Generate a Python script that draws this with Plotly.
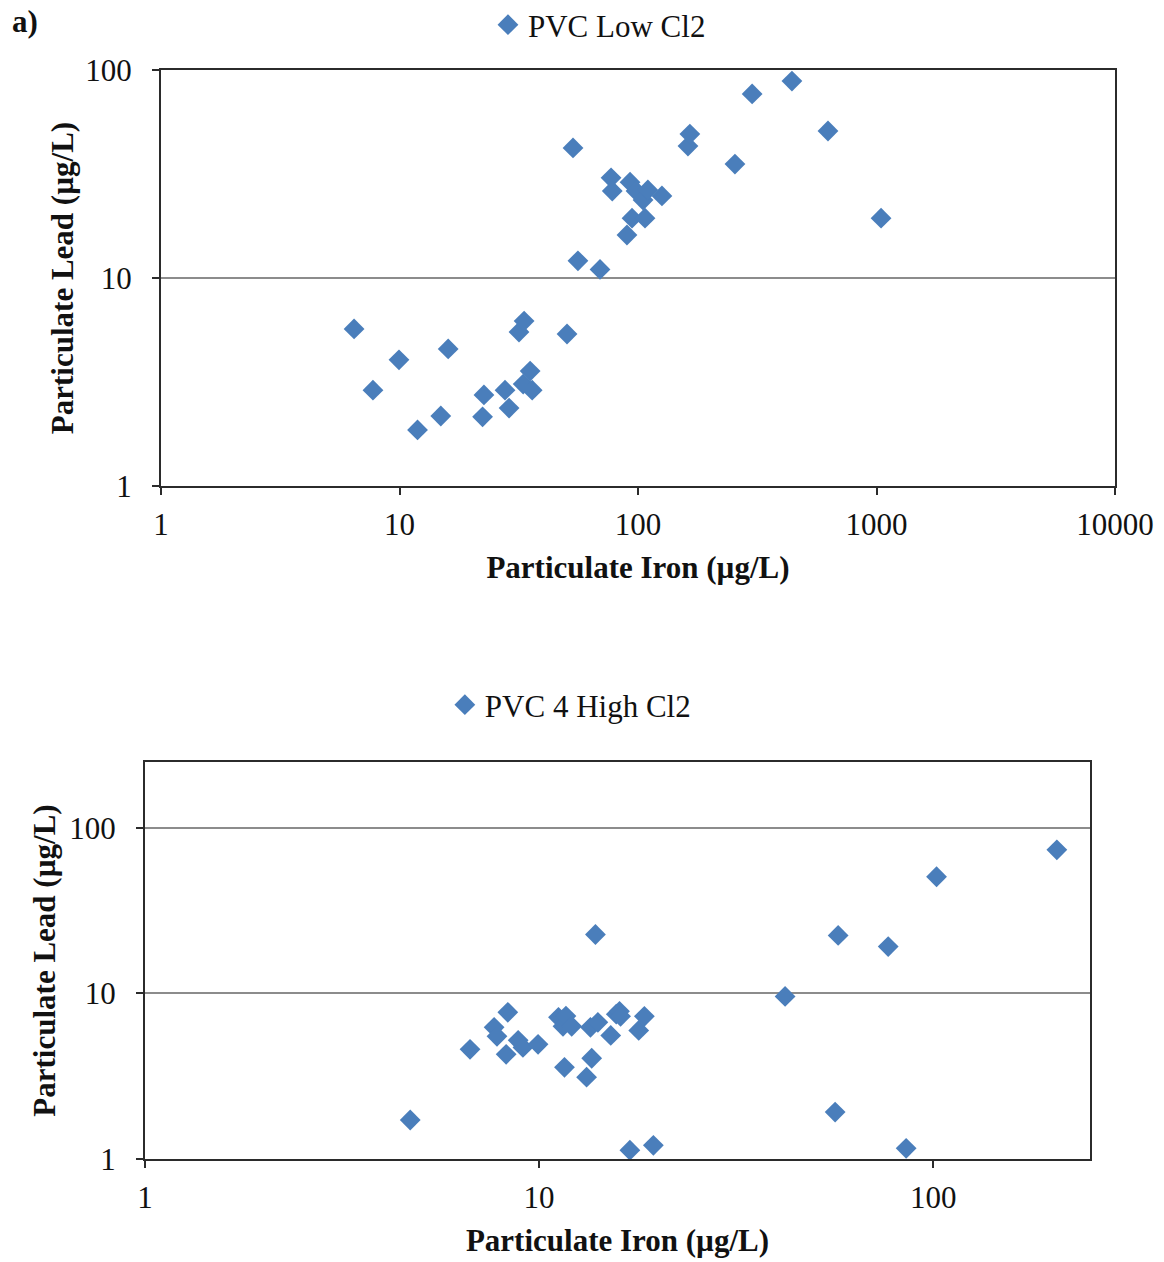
import plotly.graph_objects as go

# ---- Data: PVC Low Cl2 (top panel) ----
low_iron = [6.45, 7.74, 9.95, 11.9, 14.9, 16.0, 22.6, 22.3, 27.7, 28.8, 31.7, 33.3, 33.0, 35.3, 36.0,
            50.4, 53.4, 56.0, 69.3, 77.1, 78.0, 89.9, 92.6, 94.4, 98.1, 105, 107, 110, 126,
            162, 165, 255, 301, 442, 626, 1045]
low_lead = [5.69, 2.89, 4.04, 1.86, 2.17, 4.56, 2.74, 2.15, 2.89, 2.37, 5.5, 6.21, 3.09, 3.57, 2.89,
            5.38, 42.2, 12.1, 11.0, 30.3, 26.2, 16.1, 28.9, 19.4, 26.2, 23.7, 19.4, 26.5, 24.8,
            43.1, 49.2, 35.3, 76.7, 88.5, 50.9, 19.4]

# ---- Data: PVC 4 High Cl2 (bottom panel) ----
high_iron = [4.71, 6.68, 7.69, 7.82, 8.25, 8.33, 8.85, 9.1, 9.94, 11.2, 11.5, 11.7, 11.6, 12.1,
             13.2, 13.6, 13.5, 13.9, 14.1, 15.2, 15.7, 16.0, 16.1, 17.0, 17.9, 18.5, 19.5,
             42.1, 56.4, 57.4, 76.9, 85.4, 102, 206]
high_lead = [1.72, 4.6, 6.24, 5.51, 4.29, 7.69, 5.21, 4.72, 4.93, 7.17, 6.33, 7.3, 3.58, 6.33,
             3.12, 4.06, 6.24, 22.7, 6.69, 5.58, 7.5, 7.8, 7.27, 1.13, 5.98, 7.27, 1.21,
             9.6, 1.92, 22.4, 19.2, 1.16, 50.7, 73.7]

top_xticks = [1, 10, 100, 1000, 10000]
top_yticks = [1, 10, 100]
bot_xticks = [1, 10, 100]
bot_yticks = [1, 10, 100]

W, H = 1164, 1262
FONT = "Liberation Serif, Times New Roman, serif"
MCOL = "#4A7EBB"
FRAME = "#2b2b2b"
GRID = "#8c8c8c"
FS = 31

fig = go.Figure()
fig.add_trace(go.Scatter(x=low_iron, y=low_lead, mode="markers", name="PVC Low Cl2",
                         marker=dict(symbol="diamond", size=16, color=MCOL),
                         xaxis="x", yaxis="y", legend="legend"))
fig.add_trace(go.Scatter(x=high_iron, y=high_lead, mode="markers", name="PVC 4 High Cl2",
                         marker=dict(symbol="diamond", size=16, color=MCOL),
                         xaxis="x2", yaxis="y2", legend="legend2"))

axis_common = dict(type="log", showline=True, linecolor=FRAME, linewidth=2, mirror=True,
                   ticks="outside", ticklen=7, tickcolor=FRAME, tickwidth=1.5,
                   tickfont=dict(family=FONT, size=FS, color="#111"), zeroline=False,
                   automargin=False)
title_font = dict(family=FONT, size=FS, color="#111", weight="bold")

fig.update_layout(
    width=W, height=H,
    margin=dict(l=0, r=0, t=0, b=0, autoexpand=False),
    paper_bgcolor="white", plot_bgcolor="white",
    showlegend=True,
    xaxis=dict(**axis_common, domain=[161 / W, 1115 / W], range=[0, 4], anchor="y",
               tickvals=top_xticks, ticktext=[str(v) for v in top_xticks], showgrid=False,
               ticklabelstandoff=3,
               title=dict(text="Particulate Iron (µg/L)", font=title_font, standoff=15)),
    yaxis=dict(**axis_common, domain=[1 - 486 / H, 1 - 70 / H], range=[0, 2], anchor="x",
               tickvals=top_yticks, ticktext=[str(v) for v in top_yticks],
               showgrid=True, gridcolor=GRID, gridwidth=1.5, ticklabelstandoff=14,
               title=dict(text="Particulate Lead (µg/L)", font=title_font, standoff=2)),
    xaxis2=dict(**axis_common, domain=[145 / W, 1090 / W], range=[0, 2.398], anchor="y2",
                tickvals=bot_xticks, ticktext=[str(v) for v in bot_xticks], showgrid=False,
                ticklabelstandoff=3,
                title=dict(text="Particulate Iron (µg/L)", font=title_font, standoff=15)),
    yaxis2=dict(**axis_common, domain=[1 - 1159 / H, 1 - 762 / H], range=[0, 2.398], anchor="x2",
                tickvals=bot_yticks, ticktext=[str(v) for v in bot_yticks],
                showgrid=True, gridcolor=GRID, gridwidth=1.5, ticklabelstandoff=14,
                title=dict(text="Particulate Lead (µg/L)", font=title_font, standoff=4)),
    legend=dict(x=0.515, y=1 - 25 / H, xanchor="center", yanchor="middle", orientation="h",
                font=dict(family=FONT, size=FS, color="#111"), itemwidth=30,
                bgcolor="rgba(0,0,0,0)"),
    legend2=dict(x=0.49, y=1 - 705 / H, xanchor="center", yanchor="middle", orientation="h",
                 font=dict(family=FONT, size=FS, color="#111"), itemwidth=30,
                 bgcolor="rgba(0,0,0,0)"),
    annotations=[dict(text="<b>a)</b>", x=10 / W, y=1 - 22 / H, xref="paper", yref="paper",
                      xanchor="left", yanchor="middle", showarrow=False,
                      font=dict(family=FONT, size=FS, color="#111"))],
)

fig.write_html("out.html")
